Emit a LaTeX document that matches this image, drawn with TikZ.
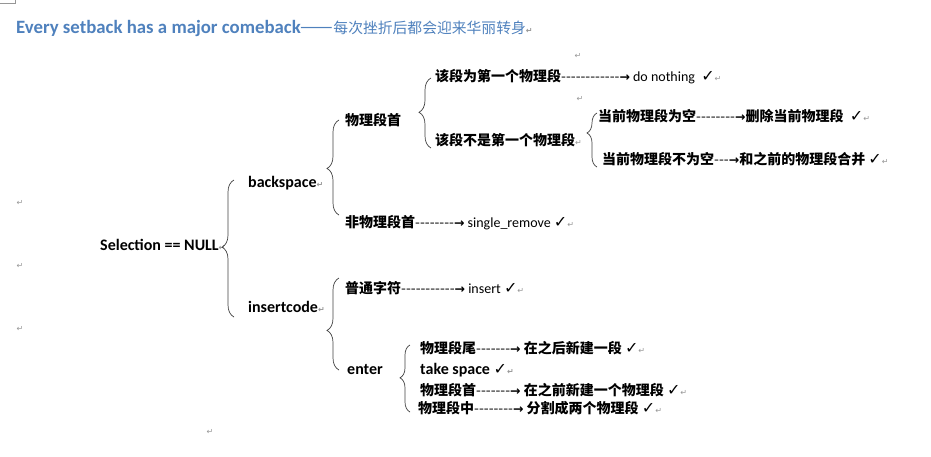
\documentclass[tikz,border=0pt]{standalone}
\usepackage{fontspec}
\setmainfont{Carlito}
\newfontfamily\zh{Noto Sans CJK SC}
\newfontfamily\sym{DejaVu Sans}
\usetikzlibrary{decorations.pathreplacing}
\definecolor{titleblue}{RGB}{79,129,189}
\definecolor{markgray}{RGB}{150,150,150}
\newcommand{\cn}[1]{{\zh\bfseries #1}}
\newcommand{\dashes}[1]{{\zh\foreach\i in {1,...,#1}{-}}}
\newcommand{\arw}{{\sym\bfseries\fontsize{12.5}{13}\selectfont →}}
\newcommand{\okay}{{\sym\fontsize{16}{16}\selectfont ✓}}
\newcommand{\retm}{{\sym\color{markgray}\fontsize{8}{9}\selectfont ↵}}

\begin{document}
\begin{tikzpicture}[x=1pt, y=-1pt,
  row/.style={anchor=west, inner sep=0pt, font=\fontsize{14}{16}\selectfont},
  key/.style={anchor=west, inner sep=0pt, font=\bfseries\fontsize{16}{18}\selectfont},
  brc/.style={draw=black!75, line width=0.7pt, decorate,
    decoration={brace, amplitude=#1}},
]
\useasboundingbox (0,0) rectangle (931,456);
\draw[markgray, line width=0.5pt] (15,0) -- (15,3.5) -- (0,3.5);
% title
\node[anchor=west, inner sep=0pt, text=titleblue] (title) at (16,28)
  {\bfseries\fontsize{18.8}{20}\selectfont Every setback has a major comeback%
   {\zh\mdseries\fontsize{19.5}{20}\selectfont ——}{\zh\mdseries\fontsize{14.8}{16}\selectfont 每次挫折后都会迎来华丽转身}\retm};
% root
\node[key] (sel) at (100,245) {Selection == NULL\retm};
\node[key] (bs) at (248,183) {backspace\retm};
\node[key] (ic) at (248,307) {insertcode\retm};
% backspace
\node[row] (head) at (345,120) {\cn{物理段首}};
\node[row] (nohead) at (345,223) {\cn{非物理段首}\dashes{8}\arw{} single\_remove \okay\retm};
\node[row] (first) at (435,77) {\cn{该段为第一个物理段}\dashes{12}\arw{} do nothing\ \ \okay\retm};
\node[row] (notfirst) at (435,140) {\cn{该段不是第一个物理段}\retm};
\node[row] (empty) at (598,116) {\cn{当前物理段为空}\dashes{8}\arw\cn{删除当前物理段}\ \ \okay\retm};
\node[row] (nonempty) at (602,159) {\cn{当前物理段不为空}\dashes{3}\arw\cn{和之前的物理段合并} \okay\retm};
% insertcode
\node[row] (plain) at (345,288) {\cn{普通字符}\dashes{11}\arw{} insert \okay\retm};
\node[key] (enter) at (347,370) {enter};
\node[row] (tail) at (420,348) {\cn{物理段尾}\dashes{7}\arw{} \cn{在之后新建一段} \okay\retm};
\node[key] (space) at (420,370) {take space \okay\retm};
\node[row] (ehead) at (420,390) {\cn{物理段首}\dashes{7}\arw{} \cn{在之前新建一个物理段} \okay\retm};
\node[row] (mid) at (418,408) {\cn{物理段中}\dashes{8}\arw{} \cn{分割成两个物理段} \okay\retm};
% loose paragraph marks
\foreach \n/\p in {r1/{(20,203)}, r2/{(20,266)}, r3/{(20,329)}, r4/{(210,432)}, r5/{(578,56)}, r6/{(580,99)}}
  \node[anchor=center, inner sep=0pt] (\n) at \p {\retm};
% braces
\coordinate (b1t) at (234,180); \coordinate (b1b) at (234,317);
\coordinate (b2t) at (339,120); \coordinate (b2b) at (339,215);
\coordinate (b3t) at (431,78);  \coordinate (b3b) at (431,148);
\coordinate (b4t) at (597,113); \coordinate (b4b) at (597,167);
\coordinate (b5t) at (339,278); \coordinate (b5b) at (339,370);
\coordinate (b6t) at (410,345); \coordinate (b6b) at (410,412);
\draw[brc=12pt, decoration={aspect=0.51}] (b1b) -- (b1t);
\draw[brc=12pt, decoration={aspect=0.49}] (b2b) -- (b2t);
\draw[brc=12pt, decoration={aspect=0.51}] (b3b) -- (b3t);
\draw[brc=10pt, decoration={aspect=0.63}] (b4b) -- (b4t);
\draw[brc=12pt, decoration={aspect=0.43}] (b5b) -- (b5t);
\draw[brc=10pt, decoration={aspect=0.51}] (b6b) -- (b6t);
\end{tikzpicture}
\end{document}
